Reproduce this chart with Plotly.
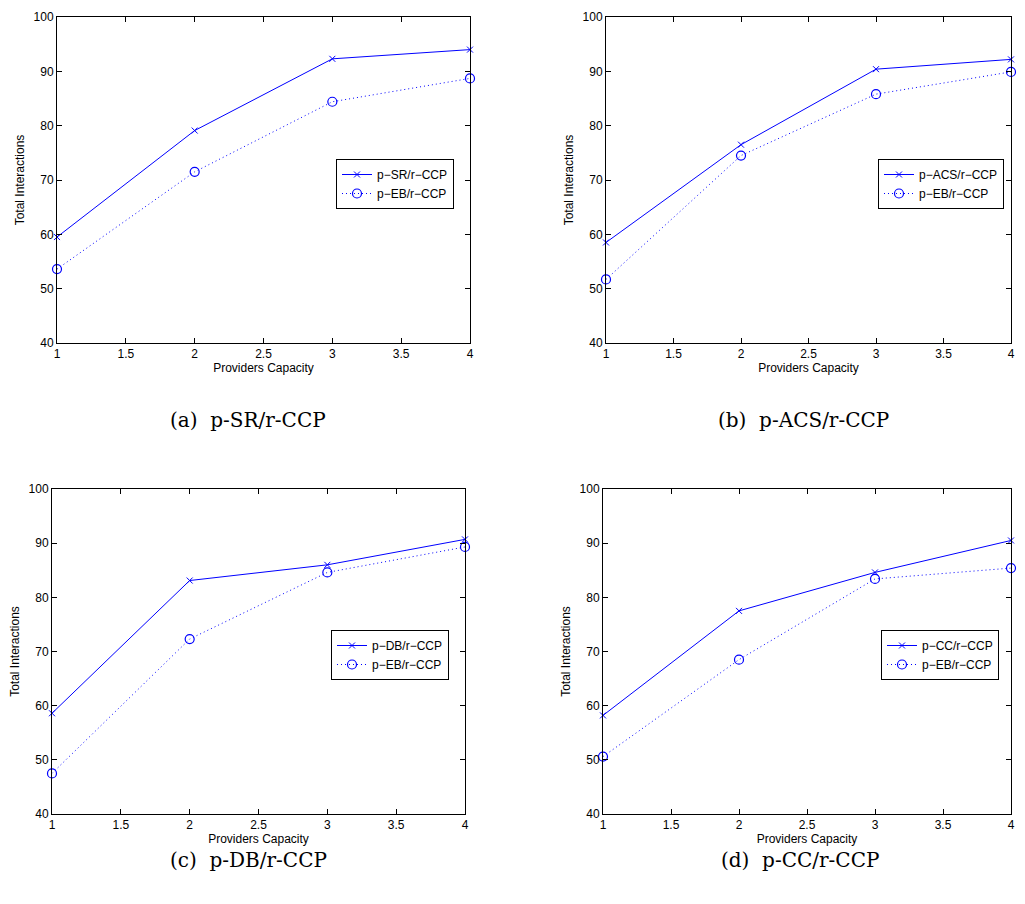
import plotly.graph_objects as go

capacity = [1, 2, 3, 4]

sr_vals = [59.5, 79.1, 92.3, 94.0]
eb_a_vals = [53.6, 71.5, 84.4, 88.7]

acs_vals = [58.5, 76.5, 90.4, 92.2]
eb_b_vals = [51.7, 74.5, 85.8, 89.9]

db_vals = [58.6, 83.1, 86.0, 90.7]
eb_c_vals = [47.5, 72.3, 84.6, 89.3]

cc_vals = [58.2, 77.5, 84.6, 90.5]
eb_d_vals = [50.6, 68.5, 83.4, 85.4]

main_names = ["p\u2212SR/r\u2212CCP", "p\u2212ACS/r\u2212CCP", "p\u2212DB/r\u2212CCP", "p\u2212CC/r\u2212CCP"]
eb_name = "p\u2212EB/r\u2212CCP"
captions = ["(a)\u00a0\u00a0p-SR/r-CCP", "(b)\u00a0\u00a0p-ACS/r-CCP", "(c)\u00a0\u00a0p-DB/r-CCP", "(d)\u00a0\u00a0p-CC/r-CCP"]

x_ticks = [1, 1.5, 2, 2.5, 3, 3.5, 4]
x_tick_text = ["1", "1.5", "2", "2.5", "3", "3.5", "4"]
y_ticks = [40, 50, 60, 70, 80, 90, 100]

# the page body has an 8px margin, so the figure is placed at (8, 8)
OFF = 8
W, H = 1025 - 2 * OFF, 904 - 2 * OFF
# pixel boxes of the four panels in page pixels: (left, right, top, bottom)
boxes = [(57, 470, 17, 343), (606, 1011, 17, 343), (52, 465, 489, 814), (603, 1011, 489, 814)]
legend_pos = [(336, 159), (878, 159), (331, 630), (881, 630)]
caption_pos = [(248, 420), (803, 420), (248, 860), (800, 860)]

mains = [sr_vals, acs_vals, db_vals, cc_vals]
ebs = [eb_a_vals, eb_b_vals, eb_c_vals, eb_d_vals]


def px_x(v):
    return (v - OFF) / W


def px_y(v):
    return (H - (v - OFF)) / H


fig = go.Figure()
BLUE = "#0000ff"
tickfont = dict(family="Liberation Sans, Arial, sans-serif", size=12, color="black")

for i in range(4):
    xa = "x" if i == 0 else f"x{i+1}"
    ya = "y" if i == 0 else f"y{i+1}"
    lg = "legend" if i == 0 else f"legend{i+1}"
    fig.add_trace(go.Scatter(
        x=capacity, y=mains[i], name=main_names[i], mode="lines+markers",
        line=dict(color=BLUE, width=1, dash="solid"),
        marker=dict(symbol="x-thin-open", size=6, color=BLUE, line=dict(color=BLUE, width=1)),
        xaxis=xa, yaxis=ya, legend=lg, cliponaxis=False))
    fig.add_trace(go.Scatter(
        x=capacity, y=ebs[i], name=eb_name, mode="lines+markers",
        line=dict(color=BLUE, width=1, dash="1px,3px"),
        marker=dict(symbol="circle-open", size=9, color=BLUE, line=dict(color=BLUE, width=1.2)),
        xaxis=xa, yaxis=ya, legend=lg, cliponaxis=False))

    l, r, t, b = boxes[i]
    xd = [px_x(l), min(px_x(r), 1.0)]
    yd = [px_y(b), px_y(t)]
    xkey = "xaxis" if i == 0 else f"xaxis{i+1}"
    ykey = "yaxis" if i == 0 else f"yaxis{i+1}"
    fig.update_layout(**{
        xkey: dict(domain=xd, anchor=ya, range=[1, 4], tickvals=x_ticks, ticktext=x_tick_text,
                   showline=True, linecolor="black", linewidth=1, mirror="ticks",
                   ticks="inside", ticklen=5, tickcolor="black", showgrid=False, zeroline=False,
                   tickfont=tickfont, automargin=False, ticklabeloverflow="allow",
                   title=dict(text="Providers Capacity", font=tickfont, standoff=1)),
        ykey: dict(domain=yd, anchor=xa, range=[40, 100], tickvals=y_ticks,
                   showline=True, linecolor="black", linewidth=1, mirror="ticks",
                   ticks="inside", ticklen=5, tickcolor="black", showgrid=False, zeroline=False,
                   tickfont=tickfont, automargin=False,
                   title=dict(text="Total Interactions", font=tickfont, standoff=6)),
    })
    lx, ly = legend_pos[i]
    fig.update_layout(**{lg: dict(x=px_x(lx), y=px_y(ly), xanchor="left", yanchor="top",
                                  bgcolor="white", bordercolor="black", borderwidth=1,
                                  font=dict(family="Liberation Sans, Arial, sans-serif", size=12, color="black"),
                                  tracegroupgap=0, itemwidth=30)})
    cx, cy = caption_pos[i]
    fig.add_annotation(x=px_x(cx), y=px_y(cy), xref="paper", yref="paper", text=captions[i],
                       showarrow=False, xanchor="center", yanchor="middle",
                       font=dict(family="DejaVu Serif, Liberation Serif, serif", size=20, color="black"))

fig.update_layout(width=W, height=H, margin=dict(l=0, r=0, t=0, b=0, autoexpand=False),
                  paper_bgcolor="white", plot_bgcolor="white", showlegend=True)

fig.write_html("out.html")
